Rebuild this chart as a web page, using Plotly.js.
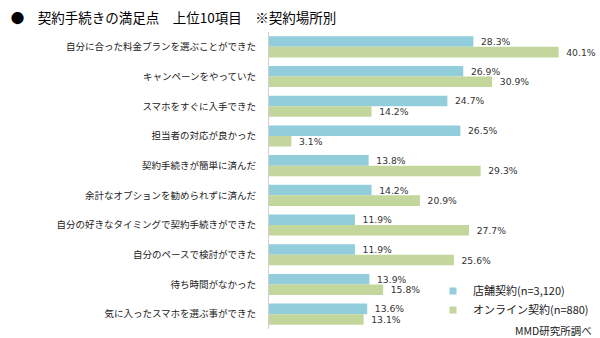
<!DOCTYPE html>
<html><head><meta charset="utf-8">
<script src="https://cdn.plot.ly/plotly-3.0.1.min.js"></script>
<style>html,body{margin:0;padding:0;background:#fff}#chart{width:600px;height:338px}</style>
</head><body><div id="chart"></div>
<script>
const categories = [
  "自分に合った料金プランを選ぶことができた",
  "キャンペーンをやっていた",
  "スマホをすぐに入手できた",
  "担当者の対応が良かった",
  "契約手続きが簡単に済んだ",
  "余計なオプションを勧められずに済んだ",
  "自分の好きなタイミングで契約手続きができた",
  "自分のペースで検討ができた",
  "待ち時間がなかった",
  "気に入ったスマホを選ぶ事ができた"
];
const storeValues = [28.3, 26.9, 24.7, 26.5, 13.8, 14.2, 11.9, 11.9, 13.9, 13.6];
const onlineValues = [40.1, 30.9, 14.2, 3.1, 29.3, 20.9, 27.7, 25.6, 15.8, 13.1];
const seriesNames = ["店舗契約(n=3,120)", "オンライン契約(n=880)"];
const colors = ["#92CDDC", "#C3D69B"];

const jp = "Noto Sans CJK JP, sans-serif";
const num = "DejaVu Sans, Noto Sans CJK JP, sans-serif";

const mk = (vals, name, color) => ({
  type: "bar", orientation: "h", y: categories, x: vals, name: name,
  marker: {color: color}, showlegend: false,
  texttemplate: "\u2002%{x:.1f}%",
  textposition: "outside", cliponaxis: false,
  textfont: {family: num, size: 10.5, color: "#333"},
  hoverinfo: "none"
});
const leg = (name, color) => ({
  type: "scatter", mode: "markers", x: [null], y: [null], name: name,
  marker: {symbol: "square", size: 7, color: color}, showlegend: true, hoverinfo: "none"
});

const data = [
  mk(storeValues, seriesNames[0], colors[0]),
  mk(onlineValues, seriesNames[1], colors[1]),
  leg(seriesNames[0], colors[0]),
  leg(seriesNames[1], colors[1])
];

const layout = {
  width: 600, height: 338,
  margin: {l: 269, r: 6, t: 32, b: 9},
  paper_bgcolor: "#fff", plot_bgcolor: "#fff",
  barmode: "group", bargap: 0.29, bargroupgap: 0,
  title: {text: "●　契約手続きの満足点　上位10項目　※契約場所別", x: 0.018, xanchor: "left", y: 0.947, yanchor: "middle",
    font: {family: jp, size: 13.5, color: "#000"}},
  xaxis: {range: [0, 45], automargin: false, showgrid: false, zeroline: false, showticklabels: false, showline: false, fixedrange: true},
  yaxis: {autorange: "reversed", automargin: false, showgrid: false, zeroline: false, showline: true, linecolor: "#d0d0d0", linewidth: 1,
    ticks: "outside", ticklen: 10, tickcolor: "rgba(0,0,0,0)",
    tickfont: {family: jp, size: 9.5, color: "#222"}},
  showlegend: true,
  legend: {x: 1, xanchor: "right", y: 0.177, yanchor: "top", bgcolor: "rgba(0,0,0,0)",
    font: {family: jp, size: 11, color: "#222"}, tracegroupgap: 0, itemwidth: 30, traceorder: "normal"},
  annotations: [{text: "MMD研究所調べ", xref: "paper", yref: "paper", x: 1, y: -0.005, xanchor: "right", yanchor: "middle",
    showarrow: false, font: {family: jp, size: 10.5, color: "#222"}}]
};

Plotly.newPlot("chart", data, layout, {displayModeBar: false, staticPlot: true});
</script></body></html>
